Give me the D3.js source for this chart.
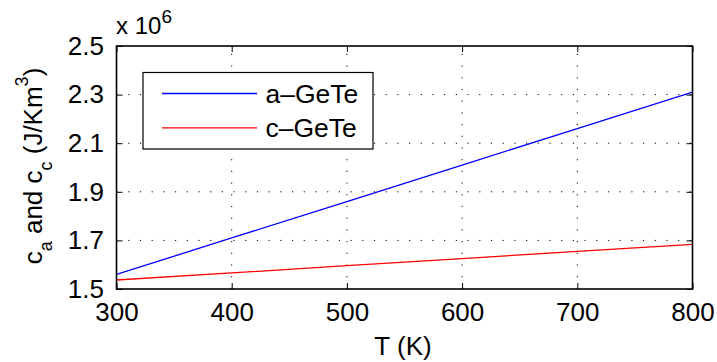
<!DOCTYPE html>
<html>
<head>
<meta charset="utf-8">
<script src="https://cdn.jsdelivr.net/npm/d3@7/dist/d3.min.js"></script>
<style>
  html, body { margin: 0; padding: 0; background: #fff; }
  svg { display: block; font-family: "Liberation Sans", Arial, Helvetica, sans-serif; }
</style>
</head>
<body>
<svg id="chart" width="717" height="362"></svg>
<script>
// Temperature samples (K)
const temperature = [300, 400, 500, 600, 700, 800];
// Heat capacity per volume, in units of 1e6 J/(K m^3)
const aGeTe = [1.560, 1.710, 1.860, 2.010, 2.160, 2.310];
const cGeTe = [1.537, 1.566, 1.596, 1.625, 1.655, 1.684];
const seriesNames = ["a\u2013GeTe", "c\u2013GeTe"];
const seriesColors = ["#0000ff", "#ff0000"];
const xTicks = [300, 400, 500, 600, 700, 800];
const yTicks = [1.5, 1.7, 1.9, 2.1, 2.3, 2.5];

const svg = d3.select("#chart");
const plot = { left: 116.5, right: 692.5, top: 46, bottom: 289 };

const x = d3.scaleLinear().domain([300, 800]).range([plot.left, plot.right]);
const y = d3.scaleLinear().domain([1.5, 2.5]).range([plot.bottom, plot.top]);

// Dotted grid
const grid = svg.append("g").attr("stroke", "#000").attr("stroke-width", 1)
  .attr("stroke-dasharray", "1.2,10.5");
grid.selectAll("line.gx").data(xTicks.slice(1, -1)).join("line")
  .attr("x1", d => x(d)).attr("x2", d => x(d))
  .attr("y1", plot.bottom).attr("y2", plot.top);
grid.selectAll("line.gy").data(yTicks.slice(1, -1)).join("line")
  .attr("y1", d => y(d)).attr("y2", d => y(d))
  .attr("x1", plot.left).attr("x2", plot.right);

// Series lines
const series = [aGeTe, cGeTe];
const line = d3.line().x((d, i) => x(temperature[i])).y(d => y(d));
svg.append("g").selectAll("path").data(series).join("path")
  .attr("d", d => line(d))
  .attr("fill", "none")
  .attr("stroke", (d, i) => seriesColors[i])
  .attr("stroke-width", 1.3);

// Axes with inward ticks on all four sides
const tickLen = 6;
const fontSize = 26;
const bottomAxis = d3.axisBottom(x).tickValues(xTicks).tickSize(-tickLen).tickPadding(14)
  .tickFormat(d3.format("d"));
const topAxis = d3.axisTop(x).tickValues(xTicks).tickSize(-tickLen).tickFormat("");
const leftAxis = d3.axisLeft(y).tickValues(yTicks).tickSize(-tickLen).tickPadding(12.5)
  .tickFormat(d3.format(".1f"));
const rightAxis = d3.axisRight(y).tickValues(yTicks).tickSize(-tickLen).tickFormat("");

function styleAxis(g) {
  g.select(".domain").remove();
  g.selectAll(".tick line").attr("stroke", "#000").attr("stroke-width", 1);
  g.selectAll(".tick text").attr("fill", "#000").attr("font-size", fontSize)
    .attr("font-family", "Liberation Sans, Arial, sans-serif");
}
svg.append("g").attr("transform", `translate(0,${plot.bottom})`).call(bottomAxis).call(styleAxis);
svg.append("g").attr("transform", `translate(0,${plot.top})`).call(topAxis).call(styleAxis);
svg.append("g").attr("transform", `translate(${plot.left},0)`).call(leftAxis).call(styleAxis);
svg.append("g").attr("transform", `translate(${plot.right},0)`).call(rightAxis).call(styleAxis);

// Axes box
svg.append("rect")
  .attr("x", plot.left).attr("y", plot.top)
  .attr("width", plot.right - plot.left).attr("height", plot.bottom - plot.top)
  .attr("fill", "none").attr("stroke", "#000").attr("stroke-width", 1.6);

// Exponent label
const expo = svg.append("text").attr("x", 116).attr("y", 33.5)
  .attr("font-size", 24).attr("fill", "#000");
expo.append("tspan").text("x 10");
expo.append("tspan").attr("dy", -11).attr("font-size", 19).text("6");

// X axis label
svg.append("text").attr("x", 403).attr("y", 354.5)
  .attr("text-anchor", "middle").attr("font-size", fontSize).attr("fill", "#000")
  .text("T (K)");

// Y axis label with sub/superscripts
const yl = svg.append("text")
  .attr("transform", "translate(42,166) rotate(-90)")
  .attr("text-anchor", "middle").attr("font-size", fontSize).attr("fill", "#000");
yl.append("tspan").text("c");
yl.append("tspan").attr("dy", 10).attr("font-size", 18).text("a");
yl.append("tspan").attr("dy", -10).text(" and c");
yl.append("tspan").attr("dy", 10).attr("font-size", 18).text("c");
yl.append("tspan").attr("dy", -10).text("  (J/Km");
yl.append("tspan").attr("dy", -14).attr("font-size", 18).text("3");
yl.append("tspan").attr("dy", 14).text(")");

// Legend
const legend = svg.append("g");
legend.append("rect")
  .attr("x", 143).attr("y", 72.5).attr("width", 230).attr("height", 76.5)
  .attr("fill", "#fff").attr("stroke", "#000").attr("stroke-width", 1.2);
const items = legend.selectAll("g.item").data(seriesNames).join("g")
  .attr("transform", (d, i) => `translate(0,${93.5 + i * 34.3})`);
items.append("line").attr("x1", 162).attr("x2", 257).attr("y1", 0).attr("y2", 0)
  .attr("stroke", (d, i) => seriesColors[i]).attr("stroke-width", 1.3);
items.append("text").attr("x", 265.5).attr("y", 9.5).attr("font-size", 26.5).attr("fill", "#000")
  .text(d => d);
</script>
</body>
</html>
